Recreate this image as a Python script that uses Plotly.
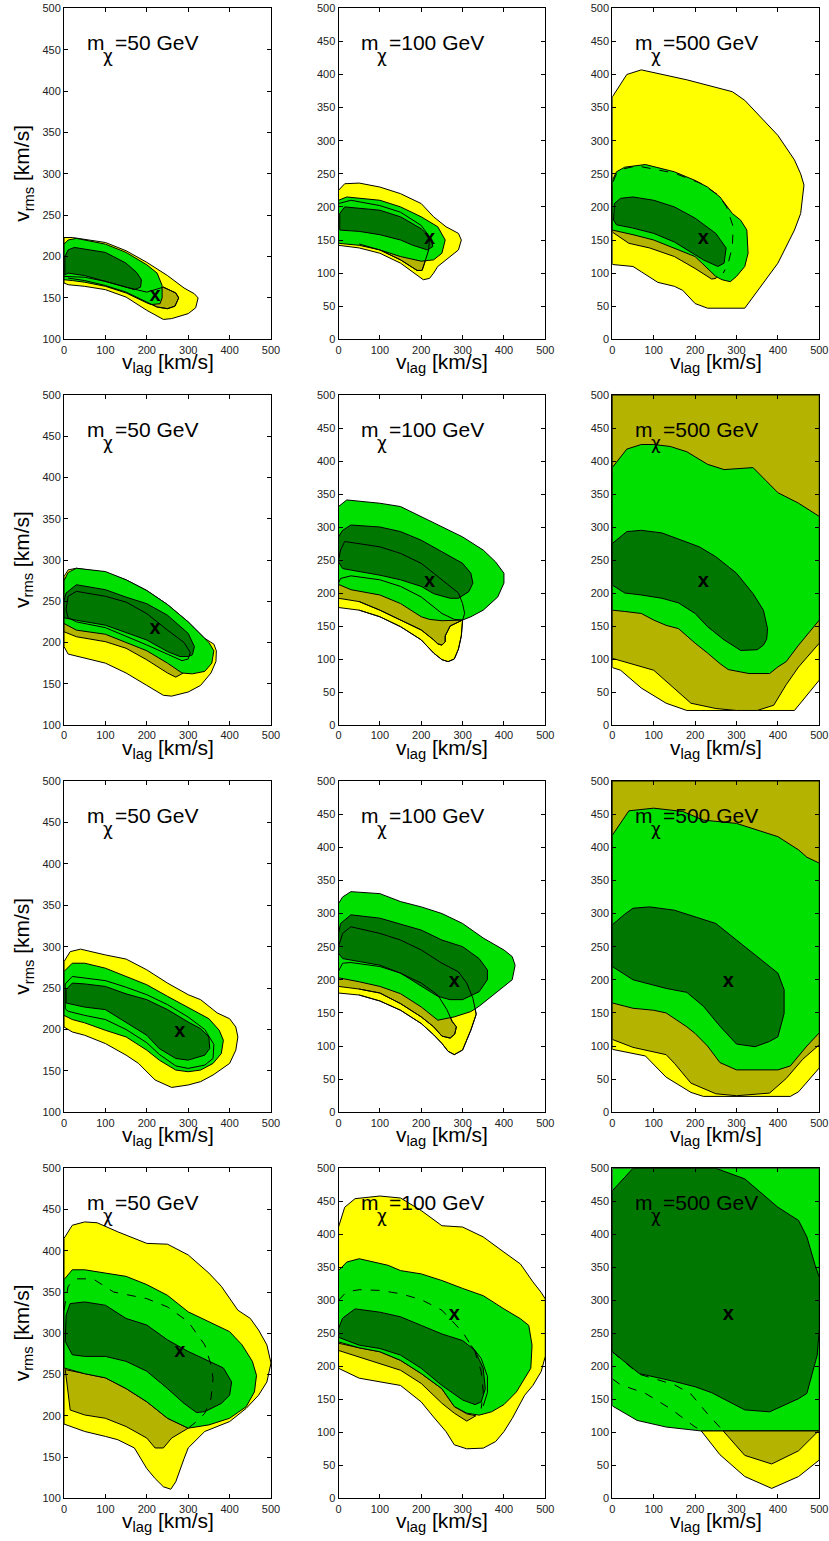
import plotly.graph_objects as go

W, H = 829, 1541
YEL, OLV, GRN, DRK = "#FFFF00", "#B3B300", "#00E000", "#007700"

masses = ["50", "100", "500"]
x_ticks = [0, 100, 200, 300, 400, 500]
best_fit = [(220, 152), (220, 216), (280, 197), (280, 277)]
y_min_col = [100, 0, 0]

# ---------------- Row 1 ----------------
r1c1_yellow = [(0,168),(0,223),(20,223),(100,217),(150,207),(200,193),(250,177),(290,162),(315,155),(324,150),(318,138),(300,131),(260,125),(240,124),(200,135),(150,151),(100,160),(50,164),(10,166)]
r1c1_olive = [(0,176),(50,175),(100,170),(150,163),(200,157),(240,163),(270,156),(277,150),(268,140),(250,137),(225,139),(200,145),(150,157),(100,165),(50,171),(10,174)]
r1c1_green = [(0,172),(0,215),(10,220),(30,222),(100,215),(150,205),(200,190),(225,180),(237,165),(237,150),(232,143),(210,142),(200,144),(150,156),(100,164),(50,169),(20,171)]
r1c1_dark = [(2,178),(2,200),(10,208),(25,211),(100,205),(150,192),(175,181),(187,172),(185,163),(170,160),(150,163),(100,170),(50,177),(10,180)]

r1c2_yellow = [(0,142),(0,225),(15,235),(50,236),(100,230),(150,220),(200,205),(230,185),(260,170),(290,160),(297,150),(290,135),(260,120),(240,110),(230,100),(220,92),(205,90),(190,97),(150,115),(100,130),(50,138)]
r1c2_olive = [(0,148),(0,205),(30,210),(100,202),(150,192),(200,172),(220,155),(218,135),(208,115),(202,104),(190,104),(150,120),(100,135),(50,144)]
r1c2_green = [(0,145),(0,210),(20,215),(100,210),(150,200),(200,185),(240,170),(258,150),(250,130),(230,120),(200,118),(150,125),(100,135),(50,142)]
r1c2_dark = [(3,165),(3,190),(15,200),(100,195),(150,185),(200,167),(225,152),(228,140),(215,135),(180,142),(150,150),(100,158),(50,163),(20,165)]

r1c3_yellow = [(0,113),(0,366),(35,400),(70,407),(180,392),(290,374),(320,361),(400,308),(440,271),(455,250),(463,233),(455,190),(440,165),(400,115),(320,47),(230,47),(200,54),(170,74),(150,80),(110,86),(70,102),(50,110)]
r1c3_olive = [(0,162),(0,230),(50,240),(150,225),(220,195),(260,150),(265,110),(250,92),(240,91),(200,107),(150,125),(90,138),(40,145)]
r1c3_green = [(0,165),(0,240),(10,253),(30,260),(80,264),(150,253),(200,240),(230,230),(260,215),(290,190),(310,180),(325,165),(328,130),(320,110),(300,95),(285,87),(265,90),(250,95),(200,125),(100,150),(50,158)]
r1c3_dark = [(3,180),(5,205),(20,213),(50,215),(100,210),(150,200),(200,183),(250,160),(275,138),(270,115),(255,110),(220,120),(150,147),(100,160),(50,168),(10,173)]
r1c3_dashed = [(2,238),(10,250),(23,257),(60,262),(150,251),(212,236),(256,218),(276,200),(292,170),(290,140),(280,115),(268,100)]

# ---------------- Row 2 ----------------
r2c1_yellow = [(0,195),(0,280),(10,288),(30,290),(100,285),(150,276),(200,263),(250,246),(300,225),(340,205),(362,198),(368,190),(367,177),(355,163),(330,148),(300,140),(260,135),(240,136),(200,148),(150,163),(100,175),(50,181),(10,186)]
r2c1_olive = [(0,213),(0,240),(50,235),(150,215),(250,190),(280,175),(288,163),(270,158),(250,163),(200,179),(150,193),(100,201),(30,207)]
r2c1_green = [(0,223),(0,275),(10,285),(30,290),(100,286),(150,276),(200,263),(250,246),(300,225),(330,210),(350,200),(362,190),(357,175),(340,165),(310,162),(285,163),(250,175),(200,190),(150,200),(100,210),(30,215)]
r2c1_dark = [(0,230),(0,250),(5,260),(30,270),(100,264),(150,255),(200,247),(250,233),(300,211),(315,195),(310,185),(300,183),(280,183),(250,189),(200,203),(100,221),(30,227)]
r2c1_inner = [(5,240),(10,256),(30,262),(100,256),(150,249),(200,235),(250,215),(290,200),(305,188),(300,180),(285,178),(250,186),(200,197),(100,218),(30,225),(10,230),(5,240)]

r2c2_yellow = [(0,178),(0,250),(5,265),(15,278),(100,270),(150,260),(200,245),(250,220),(290,200),(300,184),(305,169),(300,159),(297,135),(290,115),(280,100),(265,96),(250,99),(230,109),(200,129),(150,149),(100,164),(50,174)]
r2c2_olive = [(0,192),(0,215),(5,222),(30,226),(100,220),(150,210),(200,194),(250,169),(280,160),(300,159),(270,150),(258,135),(258,126),(250,121),(240,123),(230,129),(200,144),(150,159),(100,174),(50,187)]
r2c2_green = [(0,213),(0,331),(20,341),(100,336),(150,331),(200,316),(250,300),(300,285),(350,265),(380,247),(400,230),(400,215),(385,194),(350,174),(320,164),(300,159),(250,158),(220,160),(200,164),(150,184),(100,197),(30,205)]
r2c2_dark = [(0,247),(0,285),(10,295),(30,303),(100,300),(150,293),(200,280),(250,263),(300,245),(320,230),(325,215),(315,202),(290,192),(270,192),(230,199),(200,210),(150,220),(100,227),(50,233),(10,237)]

r2c3_yellow = [(0,87),(20,83),(70,56),(130,33),(180,22),(440,22),(500,68),(500,500),(0,500)]
r2c3_olive = [(0,101),(0,500),(500,500),(500,124),(450,88),(420,61),(390,30),(350,22),(300,22),(250,25),(190,33),(130,66),(100,83)]
r2c3_green = [(0,174),(0,390),(35,418),(70,425),(100,425),(140,422),(180,414),(230,395),(270,387),(340,390),(370,371),(400,352),(450,336),(500,316),(500,159),(450,121),(420,96),(400,88),(380,78),(330,78),(280,84),(260,93),(230,109),(200,124),(160,146),(130,151),(100,159),(70,169),(30,172)]
r2c3_dark = [(0,212),(0,275),(35,293),(70,295),(120,291),(170,280),(210,270),(250,255),(300,230),(340,199),(365,174),(375,146),(373,130),(365,121),(350,114),(310,113),(270,129),(230,149),(200,169),(160,185),(120,192),(70,197),(30,200)]

# ---------------- Row 3 ----------------
r3c1_yellow = [(0,203),(0,282),(15,294),(40,297),(100,290),(150,285),(200,272),(250,256),(300,242),(330,236),(370,220),(400,213),(415,203),(420,191),(415,175),(400,159),(360,145),(330,137),(300,133),(260,130),(220,139),(180,159),(150,169),(100,183),(50,193),(20,197)]
r3c1_green = [(0,217),(0,270),(20,280),(50,280),(100,274),(150,264),(200,254),(250,240),(300,226),(350,213),(375,199),(385,187),(380,171),(360,159),(330,151),(300,149),(270,151),(230,163),(200,175),(150,191),(100,199),(50,208),(20,212)]
r3c1_dark = [(5,232),(5,248),(20,256),(50,255),(100,252),(150,243),(200,236),(250,224),(300,209),(330,201),(350,191),(352,177),(340,169),(300,163),(270,165),(230,177),(200,193),(150,209),(100,224),(50,227),(10,232)]
r3c1_inner = [(3,225),(3,255),(20,264),(100,259),(150,251),(200,242),(250,230),(300,215),(340,200),(362,182),(360,165),(340,157),(300,153),(270,156),(230,170),(200,184),(150,200),(100,212),(50,217),(10,222),(3,225)]

r3c2_yellow = [(0,180),(0,250),(10,270),(30,280),(100,270),(150,260),(200,245),(250,225),(290,212),(310,195),(325,172),(333,148),(320,124),(310,109),(300,94),(280,87),(265,92),(250,104),(230,117),(200,134),(150,154),(100,168),(50,177)]
r3c2_olive = [(0,190),(0,213),(10,225),(30,226),(100,220),(150,210),(200,195),(240,177),(262,155),(275,137),(285,129),(281,118),(270,112),(250,115),(230,129),(200,144),(150,164),(100,180),(50,186)]
r3c2_green = [(0,203),(0,315),(10,325),(30,333),(100,330),(150,318),(200,310),(250,300),(300,285),(350,263),(400,245),(420,235),(427,222),(420,200),(400,190),(370,175),(340,160),(320,152),(280,144),(240,139),(200,159),(150,179),(100,190),(50,197)]
r3c2_dark = [(0,240),(0,270),(5,285),(30,298),(100,293),(150,284),(200,275),(250,260),(300,250),(340,232),(360,215),(360,200),(340,182),(300,170),(270,170),(240,175),(200,190),(150,210),(100,222),(50,228),(10,232)]

r3c3_yellow = [(0,95),(80,85),(130,53),(190,30),(220,24),(430,24),(450,31),(500,67),(500,500),(0,500)]
r3c3_olive = [(0,110),(0,500),(500,500),(500,102),(460,80),(420,51),(380,29),(300,25),(250,28),(190,44),(150,74),(130,87),(50,98)]
r3c3_green = [(0,165),(0,418),(40,455),(100,459),(170,454),(220,441),(300,436),(350,426),(400,416),(450,396),(470,385),(500,376),(500,120),(470,100),(430,70),(400,64),(300,64),(260,75),(230,100),(200,119),(180,129),(130,150),(100,154),(50,157)]
r3c3_dark = [(0,220),(0,283),(30,299),(50,308),(90,310),(150,305),(200,295),(250,285),(300,260),(350,235),(400,210),(415,185),(415,149),(400,114),(380,107),(345,99),(300,103),(260,130),(220,160),(180,181),(130,187),(50,200)]

# ---------------- Row 4 ----------------
r4c1_yellow = [(0,190),(0,415),(20,431),(50,435),(80,434),(130,423),(200,409),(250,408),(300,395),(350,373),(380,357),(400,342),(420,328),(450,318),(470,304),(490,286),(500,264),(490,241),(470,225),(440,209),(400,193),(340,181),(300,161),(290,148),(280,134),(270,120),(258,111),(240,114),(220,124),(200,136),(170,161),(130,171),(100,175),(50,181)]
r4c1_olive = [(3,256),(100,246),(150,233),(200,217),(250,197),(300,185),(260,173),(240,161),(220,161),(200,173),(150,187),(100,197),(50,201),(15,207)]
r4c1_green = [(0,258),(0,365),(20,377),(50,377),(100,373),(150,369),(200,359),(250,346),(300,326),(350,314),(400,302),(430,286),(455,266),(465,249),(460,229),(440,211),(400,197),(350,189),(300,185),(250,197),(200,217),(150,233),(100,246),(50,251)]
r4c1_dark = [(3,290),(5,322),(15,336),(50,338),(100,334),(150,318),(200,310),(250,292),(300,278),(350,266),(385,258),(405,241),(400,225),(380,215),(340,205),(320,204),(290,215),(250,233),(200,254),(150,266),(100,272),(50,272),(20,274)]
r4c1_dashed = [(0,328),(10,357),(30,366),(70,366),(120,350),(200,342),(250,332),(300,314),(340,286),(355,262),(360,245),(355,221),(340,203),(320,193),(300,185)]

r4c2_yellow = [(0,197),(0,411),(15,441),(40,454),(100,458),(150,455),(200,436),(250,413),(300,411),(350,396),(400,373),(440,355),(470,328),(490,312),(500,302),(500,215),(490,192),(470,171),(450,156),(420,121),(400,101),(380,86),(350,76),(310,75),(280,81),(260,101),(230,123),(200,146),(150,171),(100,176),(50,182)]
r4c2_olive = [(0,224),(0,235),(50,228),(100,222),(150,209),(200,189),(250,166),(280,139),(310,128),(332,125),(310,117),(280,129),(250,144),(200,174),(150,194),(100,204),(50,214)]
r4c2_green = [(0,237),(0,345),(20,358),(50,363),(120,353),(150,345),(200,340),(250,330),(300,318),(350,307),(400,287),(440,272),(460,262),(468,232),(465,197),(450,181),(430,161),(400,142),(370,131),(340,126),(310,129),(280,139),(250,166),(200,189),(150,209),(100,222),(50,228)]
r4c2_dark = [(0,244),(0,257),(10,273),(40,287),(100,282),(150,275),(200,262),(250,249),(300,239),(330,224),(350,197),(355,166),(345,146),(330,142),(300,149),(250,171),(200,197),(150,217),(100,227),(50,232)]
r4c2_dashed = [(0,300),(20,313),(50,316),(100,315),(150,310),(200,301),(250,285),(270,272),(300,252),(330,222),(345,192),(350,161),(345,136)]
r4c2_inner = [(320,232),(345,212),(360,185),(360,160),(350,140)]

r4c3_green = [(0,140),(0,500),(500,500),(500,102),(215,102),(130,108),(60,118)]
r4c3_yellow = [(215,102),(500,102),(500,58),(450,33),(385,15),(320,33),(260,66),(230,90)]
r4c3_olive = [(268,102),(498,102),(450,72),(385,52),(320,65)]
r4c3_dark = [(0,222),(0,466),(50,500),(250,500),(320,484),(400,441),(450,421),(470,396),(490,353),(500,335),(500,257),(495,217),(470,159),(450,151),(380,131),(320,134),(240,160),(200,169),(150,177),(65,189)]
r4c3_dashed1 = [(0,181),(20,172),(80,159),(140,136),(200,108),(215,103)]
r4c3_dashed2 = [(0,222),(65,188),(150,172),(190,158),(230,128),(268,102)]

panels = [
    [  # row 1
        dict(fills=[(YEL, r1c1_yellow), (OLV, r1c1_olive), (GRN, r1c1_green), (DRK, r1c1_dark)], lines=[("solid", r1c1_olive)]),
        dict(fills=[(YEL, r1c2_yellow), (OLV, r1c2_olive), (GRN, r1c2_green), (DRK, r1c2_dark)], lines=[("solid", r1c2_olive)]),
        dict(fills=[(YEL, r1c3_yellow), (OLV, r1c3_olive), (GRN, r1c3_green), (DRK, r1c3_dark)], lines=[("dash", r1c3_dashed)]),
    ],
    [  # row 2
        dict(fills=[(YEL, r2c1_yellow), (OLV, r2c1_olive), (GRN, r2c1_green), (DRK, r2c1_dark)], lines=[("solid", r2c1_inner)]),
        dict(fills=[(YEL, r2c2_yellow), (OLV, r2c2_olive), (GRN, r2c2_green), (DRK, r2c2_dark)], lines=[("solid", r2c2_yellow), ("solid", r2c2_olive)]),
        dict(fills=[(YEL, r2c3_yellow), (OLV, r2c3_olive), (GRN, r2c3_green), (DRK, r2c3_dark)], lines=[]),
    ],
    [  # row 3
        dict(fills=[(YEL, r3c1_yellow), (GRN, r3c1_green), (DRK, r3c1_dark)], lines=[("solid", r3c1_inner)]),
        dict(fills=[(YEL, r3c2_yellow), (OLV, r3c2_olive), (GRN, r3c2_green), (DRK, r3c2_dark)], lines=[("solid", r3c2_yellow), ("solid", r3c2_olive)]),
        dict(fills=[(YEL, r3c3_yellow), (OLV, r3c3_olive), (GRN, r3c3_green), (DRK, r3c3_dark)], lines=[]),
    ],
    [  # row 4
        dict(fills=[(YEL, r4c1_yellow), (OLV, r4c1_olive), (GRN, r4c1_green), (DRK, r4c1_dark)], lines=[("dash", r4c1_dashed)]),
        dict(fills=[(YEL, r4c2_yellow), (OLV, r4c2_olive), (GRN, r4c2_green), (DRK, r4c2_dark)], lines=[("dash", r4c2_dashed), ("solid", r4c2_inner)]),
        dict(fills=[(GRN, r4c3_green), (YEL, r4c3_yellow), (OLV, r4c3_olive), (DRK, r4c3_dark)], lines=[("dash", r4c3_dashed1), ("dash", r4c3_dashed2)]),
    ],
]

# pixel geometry of plot boxes
col_px = [(64, 271), (338.5, 545.3), (612.3, 819.3)]
row_px = [(8.3, 339.3), (395, 725), (781, 1112.3), (1168.3, 1498.3)]

FONT = "Liberation Sans, Arial, Helvetica, sans-serif"
fig = go.Figure()
layout = dict(template="none", width=W, height=H, margin=dict(l=0, r=0, t=0, b=0, autoexpand=False),
              paper_bgcolor="white", plot_bgcolor="white", showlegend=False,
              font=dict(family=FONT, color="black"))
annotations = []

n = 0
for r in range(4):
    for c in range(3):
        n += 1
        sfx = "" if n == 1 else str(n)
        xa, ya = "x" + sfx, "y" + sfx
        p = panels[r][c]
        for color, pts in p["fills"]:
            xs = [q[0] for q in pts] + [pts[0][0]]
            ys = [q[1] for q in pts] + [pts[0][1]]
            fig.add_trace(go.Scatter(x=xs, y=ys, mode="lines", fill="toself", fillcolor=color,
                                     line=dict(color="black", width=1), hoverinfo="skip",
                                     xaxis=xa, yaxis=ya))
        for dash, pts in p["lines"]:
            xs = [q[0] for q in pts]
            ys = [q[1] for q in pts]
            fig.add_trace(go.Scatter(x=xs, y=ys, mode="lines",
                                     line=dict(color="black", width=1, dash="dash" if dash == "dash" else "solid"),
                                     hoverinfo="skip", xaxis=xa, yaxis=ya))
        bx, by = best_fit[r]
        fig.add_trace(go.Scatter(x=[bx], y=[by], mode="text", text=["<b>x</b>"],
                                 textposition="middle center",
                                 textfont=dict(size=20, color="black", family=FONT),
                                 hoverinfo="skip", xaxis=xa, yaxis=ya))
        x0, x1 = col_px[c]
        y0, y1 = row_px[r]
        axis_common = dict(showline=True, linecolor="black", linewidth=1, mirror="ticks",
                           ticks="inside", ticklen=4, tickcolor="black", tickwidth=1,
                           showgrid=False, zeroline=False, automargin=False,
                           tickfont=dict(size=11, color="#222222", family=FONT))
        layout["xaxis" + sfx] = dict(axis_common, domain=[x0 / W, x1 / W], range=[0, 500],
                                     tickvals=x_ticks, anchor=ya)
        ymin = y_min_col[c]
        layout["yaxis" + sfx] = dict(axis_common, domain=[1 - y1 / H, 1 - y0 / H], range=[ymin, 500],
                                     tickvals=list(range(ymin, 501, 50)), anchor=xa)
        # x axis title
        annotations.append(dict(xref="paper", yref="paper", x=(x0 + x1) / 2 / W, y=1 - (y1 + 9) / H,
                                xanchor="center", yanchor="top", showarrow=False,
                                text="v<sub>lag</sub> [km/s]",
                                font=dict(size=21, family=FONT, color="black")))
        if c == 0:
            annotations.append(dict(xref="paper", yref="paper", x=23 / W, y=1 - (y0 + y1) / 2 / H,
                                    xanchor="center", yanchor="middle", showarrow=False, textangle=-90,
                                    text="v<sub>rms</sub> [km/s]",
                                    font=dict(size=21, family=FONT, color="black")))
        # mass label: "m", subscript chi, "=... GeV"
        dom_x = xa + " domain"
        dom_y = ya + " domain"
        annotations.append(dict(xref=dom_x, yref=dom_y, x=21 / 207, y=1 - 34.5 / 331,
                                xanchor="left", yanchor="middle", showarrow=False, text="m",
                                font=dict(size=21, family=FONT, color="black")))
        annotations.append(dict(xref=dom_x, yref=dom_y, x=37 / 207, y=1 - 48 / 331,
                                xanchor="left", yanchor="middle", showarrow=False, text="χ",
                                font=dict(size=17, family="DejaVu Sans", color="black")))
        annotations.append(dict(xref=dom_x, yref=dom_y, x=49 / 207, y=1 - 34.5 / 331,
                                xanchor="left", yanchor="middle", showarrow=False,
                                text="=" + masses[c] + " GeV",
                                font=dict(size=21, family=FONT, color="black")))

layout["annotations"] = annotations
fig.update_layout(**layout)
fig.write_html("out.html", config={"displayModeBar": False},
               post_script="document.body.style.margin='0px';document.body.style.padding='0px';")
